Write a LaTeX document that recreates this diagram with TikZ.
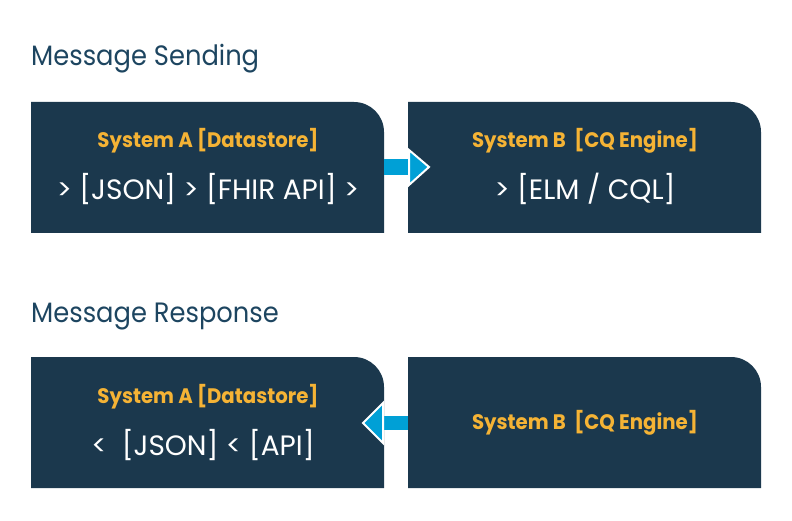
\documentclass[tikz,border=0pt]{standalone}
\usepackage{fontspec}
\setmainfont{Poppins}
\newfontfamily\titlefont[FakeStretch=0.92]{Poppins}
\newfontfamily\hdrfont[FakeStretch=0.94]{Poppins}
\definecolor{navy}{HTML}{1B384D}
\definecolor{gold}{HTML}{F5B335}
\definecolor{sky}{HTML}{00A0D6}
\definecolor{titleblue}{HTML}{1D4560}
\tikzset{
  sysbox/.style={fill=navy},
  hdr/.style={text=gold, font=\hdrfont\bfseries\fontsize{21}{24}\selectfont, anchor=base, inner sep=0},
  flow/.style={text=white, font=\fontsize{28}{32}\selectfont, anchor=base, inner sep=0},
  title/.style={text=titleblue, font=\titlefont\fontsize{28}{32}\selectfont, anchor=base west, inner sep=0},
  arrowshape/.style={fill=sky, draw=white, line width=2pt, line join=miter}
}
\begin{document}
\begin{tikzpicture}[x=1pt,y=-1pt]
\useasboundingbox (0,0) rectangle (792,521);
% titles
\node[title] (t1) at (31,66) {Message Sending};
\node[title] (t2) at (31,322) {Message Response};
% boxes
\fill[sysbox] (31,102) -- (354,102) arc[start angle=-90,end angle=0,radius=30] -- (384,233) -- (31,233) -- cycle;
\fill[sysbox] (408,102) -- (731,102) arc[start angle=-90,end angle=0,radius=30] -- (761,233) -- (408,233) -- cycle;
\fill[sysbox] (31,357) -- (354,357) arc[start angle=-90,end angle=0,radius=30] -- (384,488) -- (31,488) -- cycle;
\fill[sysbox] (408,357) -- (731,357) arc[start angle=-90,end angle=0,radius=30] -- (761,488) -- (408,488) -- cycle;
% arrows
\fill[sky] (384,159) rectangle (410,175);
\filldraw[arrowshape] (409,150) -- (429,167) -- (409,185) -- cycle;
\fill[sky] (382,416) rectangle (408,430);
\filldraw[arrowshape] (383,403) -- (363,423) -- (383,443) -- cycle;
% texts
\node[hdr] (a1h) at (208,148) {System A [Datastore]};
\node[flow] (a1f) at (208,200) {> [JSON] > [FHIR API] >};
\node[hdr] (b1h) at (585,148) {System B\ \ [CQ Engine]};
\node[flow] (b1f) at (585,200) {> [ELM / CQL]};
\node[hdr] (a2h) at (208,403) {System A [Datastore]};
\node[flow] (a2f) at (203,455) {<\ \ [JSON] < [API]};
\node[hdr] (b2h) at (585,429) {System B\ \ [CQ Engine]};
\end{tikzpicture}
\end{document}
